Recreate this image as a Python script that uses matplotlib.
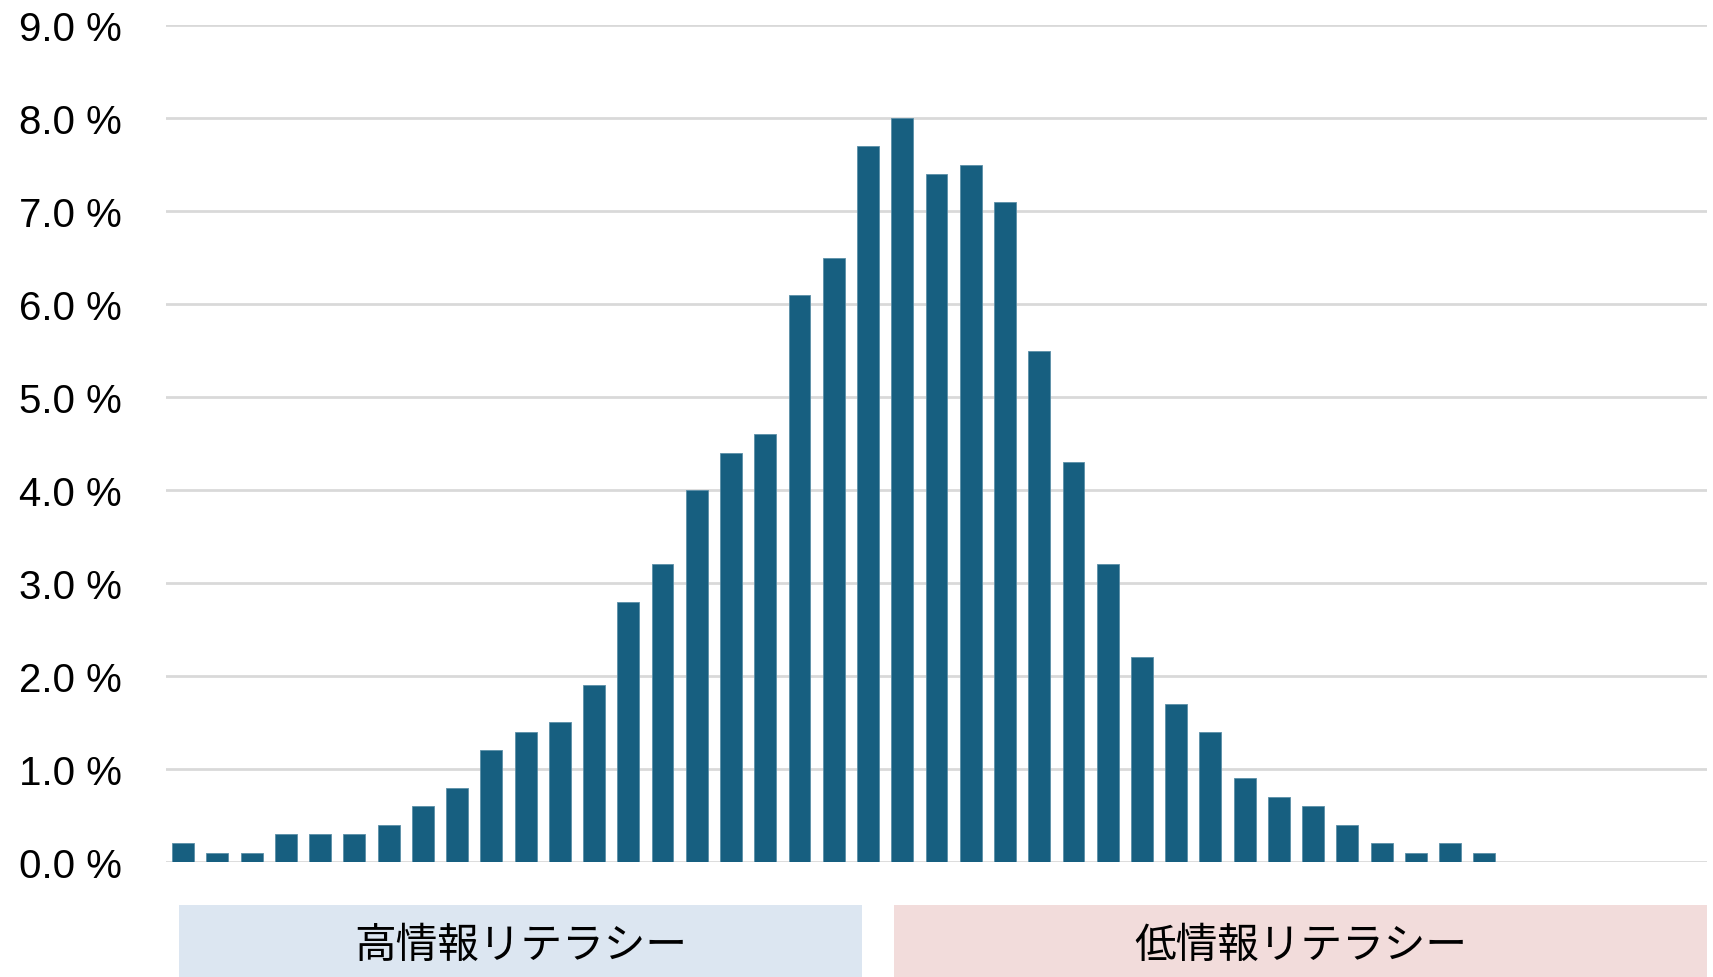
import matplotlib
matplotlib.use("Agg")
import matplotlib.pyplot as plt
from matplotlib.patches import Rectangle
import numpy as np

# ------------------------------------------------------------------
# Data (share of respondents per score bin, %)
# ------------------------------------------------------------------
values = [0.2, 0.1, 0.1, 0.3, 0.3, 0.3, 0.4, 0.6, 0.8, 1.2,
          1.4, 1.5, 1.9, 2.8, 3.2, 4.0, 4.4, 4.6, 6.1, 6.5,
          7.7, 8.0, 7.4, 7.5, 7.1, 5.5, 4.3, 3.2, 2.2, 1.7,
          1.4, 0.9, 0.7, 0.6, 0.4, 0.2, 0.1, 0.2, 0.1]
n_slots = 45
y_ticks = [0, 1, 2, 3, 4, 5, 6, 7, 8, 9]
group_labels = ["高情報リテラシー", "低情報リテラシー"]

plt.rcParams["font.family"] = ["Liberation Sans", "Noto Sans CJK JP", "DejaVu Sans"]

fig = plt.figure(figsize=(17.13, 9.78), dpi=100)
ax = fig.add_axes([0.0969, 0.1176, 0.8996, 0.8558])

x = np.arange(len(values))
ax.bar(x, values, width=0.64, color="#175f80", edgecolor="#5b8fa8", linewidth=0.6, zorder=3)

ax.set_xlim(-0.5, n_slots - 0.5)
ax.set_ylim(0, 9)
ax.set_yticks(y_ticks)
ax.set_yticklabels([f"{v:.1f} %" for v in y_ticks], fontsize=29)
ax.set_xticks([])
ax.grid(axis="y", color="#d9d9d9", linewidth=2, zorder=0)
ax.tick_params(axis="y", length=0, pad=32)
for s in ax.spines.values():
    s.set_visible(False)

# ------------------------------------------------------------------
# Group boxes under the axis
# ------------------------------------------------------------------
boxes = [(179 / 1713, 862 / 1713, "#dce6f1"), (894 / 1713, 1707 / 1713, "#f2dcdb")]
for (x0, x1, col), label in zip(boxes, group_labels):
    fig.patches.append(Rectangle((x0, 0), x1 - x0, 72 / 978, transform=fig.transFigure,
                                 facecolor=col, edgecolor="none"))
    fig.text((x0 + x1) / 2, 32 / 978, label, ha="center", va="center", fontsize=30,
             family=["Noto Sans CJK JP", "DejaVu Sans"])

plt.savefig("out.png", dpi=100)
